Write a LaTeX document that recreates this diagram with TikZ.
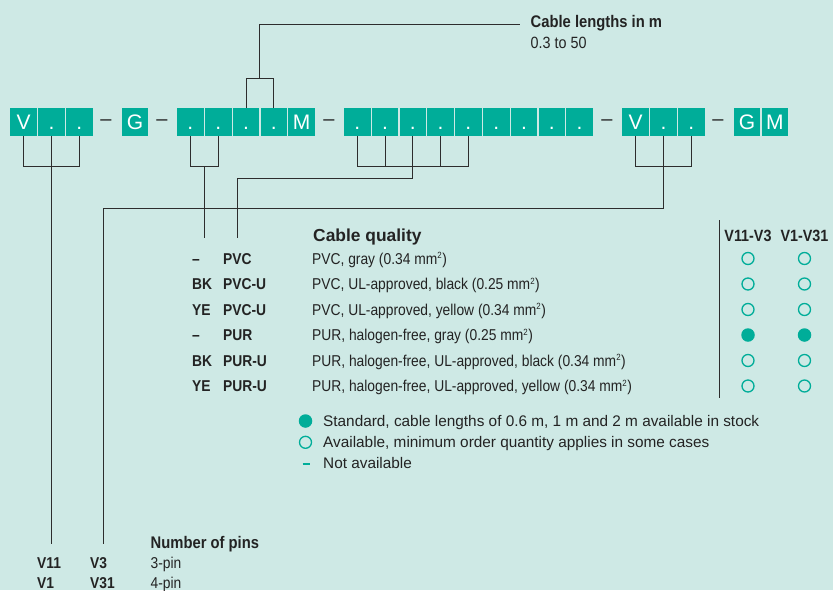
\documentclass[tikz,border=0pt]{standalone}
\usepackage{fontspec}
\setmainfont{Liberation Sans}
\newfontfamily\narrow[FakeStretch=0.88]{Liberation Sans}
\usetikzlibrary{calc}
\definecolor{bg}{RGB}{206,233,229}
\definecolor{teal1}{RGB}{0,173,153}
\definecolor{ln}{RGB}{45,45,45}
\definecolor{tx}{RGB}{35,35,35}
\newcommand{\sqm}{mm\textsuperscript{\fontsize{9}{9}\selectfont 2}}
\begin{document}
\begin{tikzpicture}[x=1pt,y=-1pt,
  cell/.style={fill=teal1, text=white, minimum width=26.6pt, minimum height=28pt,
    inner sep=0pt, text height=15.3pt, text depth=0pt, font=\fontsize{21}{21}\selectfont},
  sepdash/.style={text=tx, inner sep=0pt, font=\fontsize{20}{20}\selectfont},
  conn/.style={draw=ln, line width=1pt},
  lbl/.style={text=tx, inner sep=0pt, anchor=base west, font=\narrow\fontsize{15.7}{15.7}\selectfont},
  lblb/.style={text=tx, inner sep=0pt, anchor=base west, font=\narrow\bfseries\fontsize{15.7}{15.7}\selectfont},
  lblbc/.style={text=tx, inner sep=0pt, anchor=base, font=\narrow\bfseries\fontsize{16.3}{16.3}\selectfont},
  leg/.style={text=tx, inner sep=0pt, anchor=base west, font=\fontsize{15.35}{15.35}\selectfont},
  opendot/.style={circle, draw=teal1, line width=1.3pt, minimum size=12pt, inner sep=0pt},
  fulldot/.style={circle, fill=teal1, minimum size=13.5pt, inner sep=0pt}
]
\fill[bg] (0,0) rectangle (833,590);
\useasboundingbox (0,0) rectangle (833,590);

% code boxes
\node[cell] (a1) at (23.7,122) {V};
\node[cell] (a2) at (51.5,122) {.};
\node[cell] (a3) at (79.3,122) {.};
\node[sepdash] (s1) at (106,123) {–};
\node[cell] (g1) at (135,122) {G};
\node[sepdash] (s2) at (162,123) {–};
\node[cell] (b1) at (190.4,122) {.};
\node[cell] (b2) at (218.2,122) {.};
\node[cell] (b3) at (246,122) {.};
\node[cell] (b4) at (273.8,122) {.};
\node[cell] (b5) at (301.6,122) {M};
\node[sepdash] (s3) at (329,123) {–};
\foreach \i in {1,...,9}
  \node[cell] (c\i) at ({357.2+27.8*(\i-1)},122) {.};
\node[sepdash] (s4) at (607,123) {–};
\node[cell] (d1) at (635.7,122) {V};
\node[cell] (d2) at (663.5,122) {.};
\node[cell] (d3) at (691.3,122) {.};
\node[sepdash] (s5) at (718,123) {–};
\node[cell] (e1) at (747,122) {G};
\node[cell] (e2) at (774.8,122) {M};

% end coordinates
\coordinate (pinL) at (51.5,544);
\coordinate (pinR) at (103.5,544);
\coordinate (qualA) at (204.5,238);
\coordinate (qualB) at (237.5,238);
\coordinate (lenEnd) at (520,24.5);

% connectors
\draw[conn] (a1.south) -- ++(0,30.5) -| (a3.south);
\draw[conn] (a2.south) -- (pinL);
\draw[conn] (b1.south) -- ++(0,30.5) -| (b2.south);
\draw[conn] (qualA |- 0,166.5) -- (qualA);
\draw[conn] (b3.north) -- ++(0,-29.5) -| (b4.north);
\draw[conn] ($(b3.north)!0.5!(b4.north)+(0,-29.5)$) |- (lenEnd);
\draw[conn] (c1.south) -- ++(0,30.5) -| (c5.south);
\draw[conn] (c2.south) -- ++(0,30.5);
\draw[conn] (c4.south) -- ++(0,30.5);
\draw[conn] (c3.south) -- ++(0,42.5) -| (qualB);
\draw[conn] (d1.south) -- ++(0,30.5) -| (d3.south);
\draw[conn] (d2.south) -- ++(0,72.5) -| (pinR);

% cable lengths
\node[text=tx, inner sep=0pt, anchor=base west, font=\narrow\bfseries\fontsize{16.8}{16.8}\selectfont] (lenT) at (530.5,27) {Cable lengths in m};
\node[text=tx, inner sep=0pt, anchor=base west, font=\narrow\fontsize{16.3}{16.3}\selectfont] (lenV) at (530.5,48.5) {0.3 to 50};

% cable quality
\node[text=tx, inner sep=0pt, anchor=base west, font=\bfseries\fontsize{17.4}{17.4}\selectfont] (cqT) at (313,241.5) {Cable quality};
\node[lblb] (q1a) at (192,264) {–};
\node[lblb] (q1b) at (223,264) {PVC};
\node[lbl]  (q1c) at (312,264) {PVC, gray (0.34 \sqm)};
\node[lblb] (q2a) at (192,289.5) {BK};
\node[lblb] (q2b) at (223,289.5) {PVC-U};
\node[lbl]  (q2c) at (312,289.5) {PVC, UL-approved, black (0.25 \sqm)};
\node[lblb] (q3a) at (192,315) {YE};
\node[lblb] (q3b) at (223,315) {PVC-U};
\node[lbl]  (q3c) at (312,315) {PVC, UL-approved, yellow (0.34 \sqm)};
\node[lblb] (q4a) at (192,340.5) {–};
\node[lblb] (q4b) at (223,340.5) {PUR};
\node[lbl]  (q4c) at (312,340.5) {PUR, halogen-free, gray (0.25 \sqm)};
\node[lblb] (q5a) at (192,366) {BK};
\node[lblb] (q5b) at (223,366) {PUR-U};
\node[lbl]  (q5c) at (312,366) {PUR, halogen-free, UL-approved, black (0.34 \sqm)};
\node[lblb] (q6a) at (192,391.5) {YE};
\node[lblb] (q6b) at (223,391.5) {PUR-U};
\node[lbl]  (q6c) at (312,391.5) {PUR, halogen-free, UL-approved, yellow (0.34 \sqm)};

% availability table
\coordinate (vtop) at (719.5,220);
\coordinate (vbot) at (719.5,398);
\draw[draw=ln, line width=1pt] (vtop) -- (vbot);
\node[lblbc] (h1) at (748,241) {V11-V3};
\node[lblbc] (h2) at (804.5,241) {V1-V31};
\foreach \r/\y in {1/258.5,2/284,3/309.5,5/360.5,6/386}{
  \node[opendot] (o\r a) at (748,\y) {};
  \node[opendot] (o\r b) at (804.5,\y) {};
}
\node[fulldot] (o4a) at (748,335) {};
\node[fulldot] (o4b) at (804.5,335) {};

% legend
\node[fulldot] (l1) at (305.5,421) {};
\node[opendot] (l2) at (305.5,442.3) {};
\coordinate (l3a) at (302.5,463.8);
\coordinate (l3b) at (309.5,463.8);
\draw[teal1, line width=1.4pt] (l3a) -- (l3b);
\node[leg] (t1) at (323,426.3) {Standard, cable lengths of 0.6 m, 1 m and 2 m available in stock};
\node[leg] (t2) at (323,447.6) {Available, minimum order quantity applies in some cases};
\node[leg] (t3) at (323,468.9) {Not available};

% number of pins
\node[text=tx, inner sep=0pt, anchor=base west, font=\narrow\bfseries\fontsize{16.8}{16.8}\selectfont] (npT) at (150.5,548) {Number of pins};
\node[lblb] (p1a) at (37,568.5) {V11};
\node[lblb] (p1b) at (90,568.5) {V3};
\node[lbl]  (p1c) at (150.5,568.5) {3-pin};
\node[lblb] (p2a) at (37,588.3) {V1};
\node[lblb] (p2b) at (90,588.3) {V31};
\node[lbl]  (p2c) at (150.5,588.3) {4-pin};
\end{tikzpicture}
\end{document}
